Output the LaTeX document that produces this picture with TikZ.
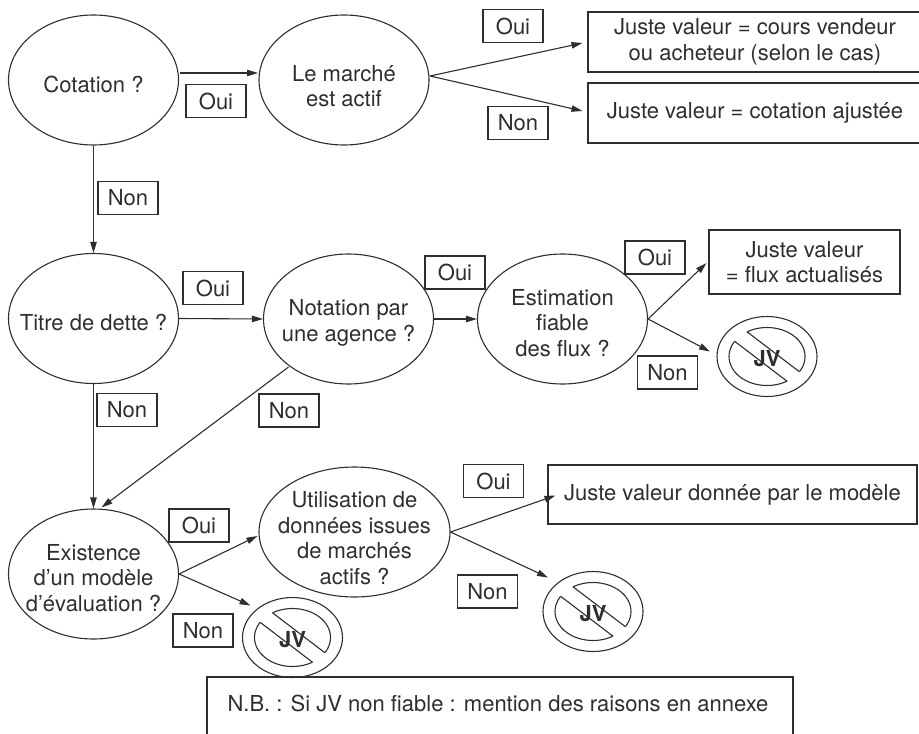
\documentclass[tikz,border=0pt]{standalone}
\usepackage{fontspec}
\setmainfont{TeX Gyre Heros}
\usetikzlibrary{shapes.geometric,arrows.meta,calc}
\definecolor{ink}{gray}{0.18}
\newcommand\jvsign[2]{%
  \node[jvring] (#1) at #2 {};
  \begin{scope}[shift={(#1.center)}]
    \draw[ink, line width=0.55pt] (0,0) ellipse (19pt and 14.5pt);
    \begin{scope}
      \clip (0,0) ellipse (20.5pt and 16pt);
      \fill[white] (52.25,30.4) -- (43.15,42.4) -- (-52.25,-30.4) -- (-43.15,-42.4) -- cycle;
    \end{scope}
    \node[font=\fontsize{11pt}{12pt}\selectfont\bfseries, inner sep=0pt] (#1t) at (0,2) {JV};
    \begin{scope}
      \clip (0,0) ellipse (19pt and 14.5pt);
      \draw[ink, line width=0.55pt] (52.25,30.4) -- (-43.15,-42.4);
      \draw[ink, line width=0.55pt] (43.15,42.4) -- (-52.25,-30.4);
    \end{scope}
  \end{scope}}
\begin{document}
\begin{tikzpicture}[x=0.5pt,y=-0.5pt,
  every node/.style={font=\fontsize{11pt}{12.75pt}\selectfont, text=ink},
  ell/.style={draw=ink, line width=0.55pt, ellipse, inner sep=0pt, minimum width=85pt, minimum height=65pt},
  txt/.style={align=center, inner sep=0pt},
  lab/.style={draw=ink, line width=0.55pt, rectangle, inner sep=0pt, minimum width=30pt, minimum height=16.5pt},
  res/.style={draw=ink, line width=0.55pt, rectangle, inner sep=0pt, align=center},
  jvring/.style={draw=ink, line width=0.55pt, ellipse, inner sep=0pt, minimum width=50pt, minimum height=40pt},
  arr/.style={draw=ink, line width=0.55pt, -{Triangle[length=5.5pt,width=3.2pt]}}
]
\path[use as bounding box] (0,0) rectangle (919,733);
\clip (0,0) rectangle (919,733);

% ellipses
\node[ell] (cot) at (93.5,80) {};
\node[txt] (cott) at ($(cot)+(0,4)$) {Cotation ?};
\node[ell] (mar) at (344,80) {};
\node[txt] (mart) at ($(mar)+(0,6)$) {Le marché\\est actif};
\node[ell] (tit) at (93.5,318.5) {};
\node[txt] (titt) at ($(tit)+(0,4)$) {Titre de dette ?};
\node[ell] (not) at (348.5,319) {};
\node[txt] (nott) at ($(not)+(0,4)$) {Notation par\\une agence ?};
\node[ell] (est) at (562.5,319) {};
\node[txt] (estt) at ($(est)+(0,4)$) {Estimation\\fiable\\des flux ?};
\node[ell] (ex) at (93.5,574) {};
\node[txt] (ext) at ($(ex)+(0,4)$) {Existence\\d’un modèle\\d’évaluation ?};
\node[ell, minimum width=95.5pt] (ut) at (354.5,532) {};
\node[txt] (utt) at ($(ut)+(0,6)$) {Utilisation de\\données issues\\de marchés\\actifs ?};

% result boxes
\node[res, minimum width=167pt, minimum height=30pt] (bA) at (755,42) {Juste valeur = cours vendeur\\ou acheteur (selon le cas)};
\node[res, minimum width=167pt, minimum height=30pt] (bB) at (755,113) {Juste valeur = cotation ajustée};
\node[res, minimum width=95.5pt, minimum height=32pt] (bF) at (804.5,262) {Juste valeur\\= flux actualisés};
\node[res, minimum width=184.5pt, minimum height=29.5pt] (bM) at (732.5,494.5) {Juste valeur donnée par le modèle};
\node[res, minimum width=293pt, minimum height=41.5pt] (bN) at (500,718.5) {};
\node[txt] (bNt) at (498,703) {N.B. : Si JV non fiable : mention des raisons en annexe};

% JV signs
\jvsign{jv1}{(767,356.5)}
\jvsign{jv2}{(593,611.5)}
\jvsign{jv3}{(292.5,637.5)}

% labels
\node[lab] (oui1) at (216,101) {Oui};
\node[lab] (non1) at (128,198) {Non};
\node[lab] (oui2) at (513,26) {Oui};
\node[lab] (non2) at (518,123) {Non};
\node[lab] (oui3) at (213,288) {Oui};
\node[lab] (non3) at (127,410) {Non};
\node[lab] (oui4) at (455,272.5) {Oui};
\node[lab] (non4) at (289,410.5) {Non};
\node[lab] (oui5) at (655,257.5) {Oui};
\node[lab] (non5) at (667.5,372.5) {Non};
\node[lab] (oui6) at (199,525.5) {Oui};
\node[lab] (non6) at (203,630.5) {Non};
\node[lab] (oui7) at (493.5,481) {Oui};
\node[lab] (non7) at (487.5,591.5) {Non};

% connectors
\draw[arr] ($(cot.center)+(86,-7)$) -- ($(mar.center)+(-86,-7)$);
\draw[arr] (cot.south) -- (tit.north);
\draw[arr] ($(mar.center)+(86,-4)$) -- ($(bA.west)+(-5,1)$);
\draw[arr] ($(mar.center)+(86,-4)$) -- ($(bB.west)+(-5,-2)$);
\draw[arr] (tit.east) -- (not.west);
\draw[arr] (tit.south) -- (ex.north);
\draw[arr] ($(not.center)+(-60,48)$) -- ($(ex.north)+(8,-1)$);
\draw[arr] (not.east) -- (est.west);
\draw[arr] (est.east) -- ($(bF.west)+(-2,1)$);
\draw[arr] (est.east) -- ($(jv1.center)+(-57,-5)$);
\draw[arr] (ex.east) -- ($(ut.west)+(-1,4)$);
\draw[arr] (ex.east) -- ($(jv3.center)+(-42,-32)$);
\draw[arr] (ut.east) -- ($(bM.west)+(8,1)$);
\draw[arr] (ut.east) -- ($(jv2.center)+(-45,-34)$);
\end{tikzpicture}
\end{document}
